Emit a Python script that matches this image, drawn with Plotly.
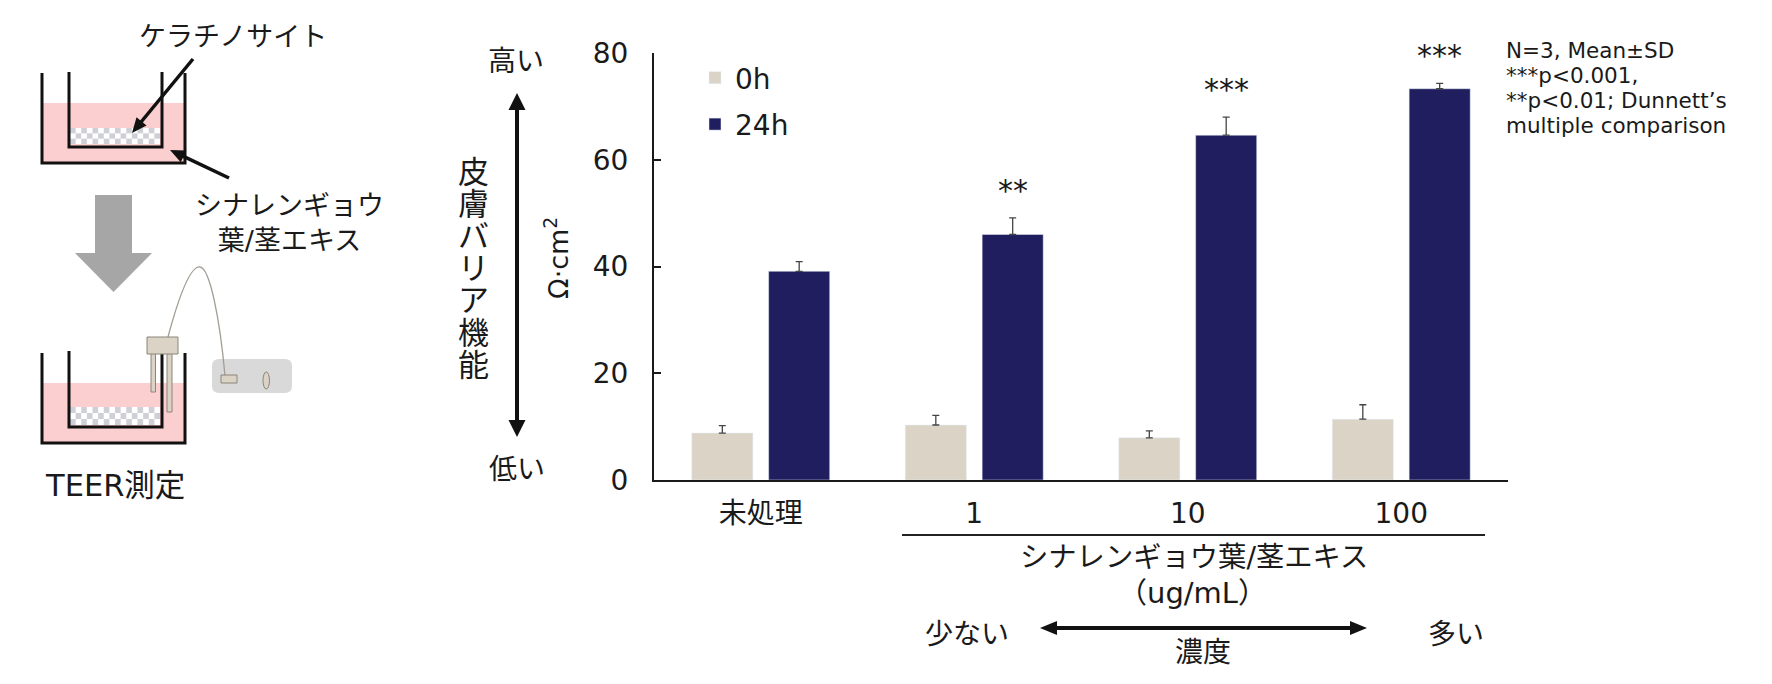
import math
import plotly.graph_objects as go

# ---------------- data ----------------
categories = ["未処理", "1", "10", "100"]
series_names = ["0h", "24h"]
mean_0h = [8.8, 10.3, 7.9, 11.4]
sd_0h = [1.4, 1.8, 1.3, 2.7]
mean_24h = [39.1, 46.0, 64.6, 73.3]
sd_24h = [1.8, 3.1, 3.4, 1.0]
stars_24h = ["", "**", "***", "***"]
y_tick_values = [0, 20, 40, 60, 80]

# ---------------- geometry helpers ----------------
W, H = 1772, 684
L, R, T, B = 654, 264, 53, 204
PW, PH = W - L - R, H - T - B


def X(px):
    return (px - L) / PW


def Y(py):
    return (H - B - py) / PH


FONT = "DejaVu Sans, Noto Sans CJK JP"
TXT = "#1a1a1a"
C0 = "#DAD3C6"
C24 = "#201E5E"
PINK = "#FBCFCF"
CHECK = "#CFCFD6"
EDGE = "#8C8478"
INK = "#111111"

fig = go.Figure()

bar_w = 0.286
fig.add_bar(
    x=categories, y=mean_0h, name=series_names[0], marker_color=C0,
    width=bar_w, offset=-0.323, legendgroup="g0",
    error_y=dict(type="data", array=sd_0h, arrayminus=[0] * len(sd_0h), symmetric=False,
                 color="#444444", thickness=1.3, width=3.5),
)
fig.add_bar(
    x=categories, y=mean_24h, name=series_names[1], marker_color=C24,
    width=bar_w, offset=0.037, legendgroup="g1",
    error_y=dict(type="data", array=sd_24h, arrayminus=[0] * len(sd_24h), symmetric=False,
                 color="#444444", thickness=1.3, width=3.5),
)

# significance stars above 24h bars
for i, s in enumerate(stars_24h):
    if s:
        fig.add_annotation(x=i + 0.037 + bar_w / 2, y=mean_24h[i] + sd_24h[i], xref="x", yref="y",
                           text=s, showarrow=False, yanchor="bottom", yshift=8,
                           font=dict(size=30, color=TXT, family=FONT))


def text(px, py, s, size, xanchor="center", yanchor="middle", angle=0, align="center"):
    fig.add_annotation(x=X(px), y=Y(py), xref="paper", yref="paper", text=s, showarrow=False,
                       xanchor=xanchor, yanchor=yanchor, textangle=angle, align=align,
                       font=dict(size=size, color=TXT, family=FONT))


def rect(x0, y0, x1, y1, fill, line_color=None, lw=0):
    fig.add_shape(type="rect", xref="paper", yref="paper", x0=X(x0), x1=X(x1), y0=Y(y0), y1=Y(y1),
                  fillcolor=fill, line=dict(width=lw, color=line_color or fill), layer="above")


def poly(points, fill=None, line_color=None, lw=0, closed=True):
    d = "M " + " L ".join(f"{X(a):.5f},{Y(b):.5f}" for a, b in points)
    if closed:
        d += " Z"
    fig.add_shape(type="path", xref="paper", yref="paper", path=d,
                  fillcolor=fill if fill else "rgba(0,0,0,0)",
                  line=dict(width=lw, color=line_color or "rgba(0,0,0,0)"), layer="above")


def line(x0, y0, x1, y1, color, lw):
    fig.add_shape(type="line", xref="paper", yref="paper", x0=X(x0), x1=X(x1), y0=Y(y0), y1=Y(y1),
                  line=dict(width=lw, color=color), layer="above")


def arrow(tail, tip, lw, head_len, head_half, both=False):
    dx, dy = tip[0] - tail[0], tip[1] - tail[1]
    n = math.hypot(dx, dy)
    ux, uy = dx / n, dy / n
    px_, py_ = -uy, ux
    end = (tip[0] - ux * head_len * 0.8, tip[1] - uy * head_len * 0.8)
    start = tail
    if both:
        start = (tail[0] + ux * head_len * 0.8, tail[1] + uy * head_len * 0.8)
    line(start[0], start[1], end[0], end[1], INK, lw)
    bx, by = tip[0] - ux * head_len, tip[1] - uy * head_len
    poly([tip, (bx + px_ * head_half, by + py_ * head_half), (bx - px_ * head_half, by - py_ * head_half)],
         fill=INK)
    if both:
        bx, by = tail[0] + ux * head_len, tail[1] + uy * head_len
        poly([tail, (bx + px_ * head_half, by + py_ * head_half), (bx - px_ * head_half, by - py_ * head_half)],
             fill=INK)


def checker(x0, y0, x1, y1, cols, rows):
    rect(x0, y0, x1, y1, "white")
    cw = (x1 - x0) / cols
    rh = (y1 - y0) / rows
    for r in range(rows):
        for c in range(cols):
            if (r + c) % 2 == 0:
                rect(x0 + c * cw, y0 + r * rh, x0 + (c + 1) * cw, y0 + (r + 1) * rh, CHECK)


def beaker(top, pink_top, bottom, ins_top, ins_bottom, chk_top, chk_bottom):
    rect(42, pink_top, 185, bottom, PINK)
    checker(70, chk_top, 160, chk_bottom, 16, 3)
    poly([(42, top), (42, bottom), (185, bottom), (185, top)], line_color=INK, lw=3, closed=False)
    poly([(69, ins_top), (69, ins_bottom), (162, ins_bottom), (162, ins_top)], line_color=INK, lw=3,
         closed=False)


# ---------------- left diagram ----------------
beaker(73, 103, 163, 72, 147, 128, 144)
arrow((193, 59), (132, 133), 3.5, 15, 6.5)
arrow((229, 178), (170, 150), 3.5, 15, 6.5)
text(233, 37, "ケラチノサイト", 27)
text(289, 223, "シナレンギョウ<br>葉/茎エキス", 27)

# grey block arrow
poly([(95, 195), (132, 195), (132, 253), (152, 253), (113.5, 292), (75, 253), (95, 253)], fill="#A6A6A6")

# bottom beaker with electrode
beaker(353, 383, 443, 351, 427, 407, 425)
wire = (f"M {X(168):.5f},{Y(337):.5f} C {X(182):.5f},{Y(285):.5f} {X(192):.5f},{Y(266):.5f} "
        f"{X(200):.5f},{Y(267):.5f} C {X(210):.5f},{Y(268):.5f} {X(220):.5f},{Y(320):.5f} "
        f"{X(225):.5f},{Y(376):.5f}")
fig.add_shape(type="path", xref="paper", yref="paper", path=wire,
              line=dict(width=1.3, color="#A39D94"), layer="above")
rect(151, 352, 155.5, 392, C0, EDGE, 1)
rect(167, 352, 172, 412, C0, EDGE, 1)
rect(147, 337, 178, 354, C0, EDGE, 1)
r_ = 7
dpath = (f"M {X(212 + r_):.5f},{Y(359):.5f} L {X(292 - r_):.5f},{Y(359):.5f} "
         f"Q {X(292):.5f},{Y(359):.5f} {X(292):.5f},{Y(359 + r_):.5f} "
         f"L {X(292):.5f},{Y(393 - r_):.5f} Q {X(292):.5f},{Y(393):.5f} {X(292 - r_):.5f},{Y(393):.5f} "
         f"L {X(212 + r_):.5f},{Y(393):.5f} Q {X(212):.5f},{Y(393):.5f} {X(212):.5f},{Y(393 - r_):.5f} "
         f"L {X(212):.5f},{Y(359 + r_):.5f} Q {X(212):.5f},{Y(359):.5f} {X(212 + r_):.5f},{Y(359):.5f} Z")
fig.add_shape(type="path", xref="paper", yref="paper", path=dpath, fillcolor="#D9D9D9",
              line=dict(width=0, color="rgba(0,0,0,0)"), layer="below")
rect(221, 375, 237, 383, C0, EDGE, 1)
fig.add_shape(type="circle", xref="paper", yref="paper", x0=X(263), x1=X(269.5), y0=Y(372), y1=Y(389),
              fillcolor=C0, line=dict(width=1, color=EDGE), layer="above")
text(115, 485, "TEER測定", 30.5)

# ---------------- chart side labels ----------------
text(516, 61, "高い", 28)
text(517, 469, "低い", 28)
arrow((517, 437), (517, 93), 4, 17, 8.5, both=True)
vlabel = "<br>".join(f'<span style="font-size:31px">{ch}</span>' for ch in "皮膚バリア機能")
text(473, 268, vlabel, 24.7)
text(556, 258, "Ω·cm<sup>2</sup>", 27, angle=-90)

# group line and x labels
line(902, 535, 1485, 535, "#222222", 1.8)
text(1194, 557, "シナレンギョウ葉/茎エキス", 28.3)
text(1192, 593, "（ug/mL）", 29)
text(967, 634, "少ない", 28)
text(1456, 634, "多い", 28)
text(1203, 652, "濃度", 28)
arrow((1040, 628), (1367, 628), 4, 17, 7, both=True)

# statistics note
note_lines = ["N=3, Mean±SD", "***p<0.001,", "**p<0.01; Dunnett’s", "multiple comparison"]
note = "<br>".join(f'<span style="font-size:21.5px">{s}</span>' for s in note_lines)
text(1504, 88, note, 19.3, xanchor="left", align="left")

fig.update_layout(
    width=W, height=H,
    margin=dict(l=L, r=R, t=T, b=B, pad=0),
    paper_bgcolor="white", plot_bgcolor="white",
    barmode="overlay",
    font=dict(family=FONT, color=TXT, size=28),
    showlegend=True,
    legend=dict(x=X(695), y=Y(53), xanchor="left", yanchor="top", font=dict(size=28, color=TXT),
                tracegroupgap=7, traceorder="grouped", bgcolor="rgba(0,0,0,0)", itemwidth=30),
    xaxis=dict(range=[-0.5, 3.5], showline=True, linecolor="#1a1a1a", linewidth=2, ticks="",
               tickfont=dict(size=28), ticklabelstandoff=7, showgrid=False, zeroline=False, fixedrange=True),
    yaxis=dict(range=[0, 80], tickvals=y_tick_values, ticks="inside", ticklen=7, tickcolor="#1a1a1a",
               tickwidth=1.5, showline=True, linecolor="#1a1a1a", linewidth=2, tickfont=dict(size=28),
               ticklabelstandoff=18, showgrid=False, zeroline=False, fixedrange=True),
)

fig.write_html("out.html", config={"displayModeBar": False},
               post_script="document.body.style.margin='0';document.body.style.overflow='hidden';")
